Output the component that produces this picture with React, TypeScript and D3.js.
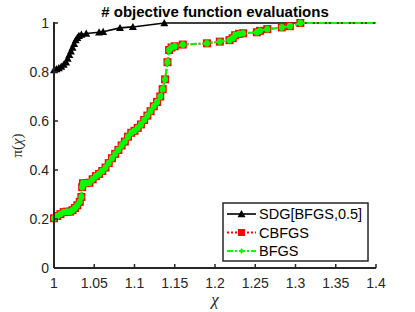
import React from "react";
import * as d3 from "d3";

const W = 415, H = 312;
const xTicks = [1, 1.05, 1.1, 1.15, 1.2, 1.25, 1.3, 1.35, 1.4];
const xTickLabels = ["1", "1.05", "1.1", "1.15", "1.2", "1.25", "1.3", "1.35", "1.4"];
const yTicks = [0, 0.2, 0.4, 0.6, 0.8, 1];
const yTickLabels = ["0", "0.2", "0.4", "0.6", "0.8", "1"];

const sdgX = [1.0, 1.003, 1.006, 1.009, 1.012, 1.015, 1.017, 1.019, 1.021, 1.023, 1.025, 1.027, 1.029, 1.031, 1.034, 1.04, 1.056, 1.061, 1.082, 1.098, 1.137, 1.4];
const sdgY = [0.808, 0.812, 0.816, 0.822, 0.83, 0.84, 0.855, 0.87, 0.885, 0.9, 0.915, 0.93, 0.94, 0.948, 0.953, 0.957, 0.962, 0.964, 0.98, 0.984, 1.0, 1.0];

const bfgsX = [1.0, 1.004, 1.008, 1.012, 1.016, 1.02, 1.023, 1.026, 1.029, 1.032, 1.034, 1.035, 1.036, 1.04, 1.044, 1.048, 1.052, 1.056, 1.06, 1.064, 1.068, 1.072, 1.076, 1.08, 1.084, 1.088, 1.092, 1.096, 1.1, 1.104, 1.108, 1.112, 1.116, 1.12, 1.124, 1.128, 1.132, 1.135, 1.138, 1.141, 1.143, 1.146, 1.15, 1.16, 1.19, 1.206, 1.218, 1.222, 1.225, 1.23, 1.235, 1.252, 1.256, 1.265, 1.283, 1.293, 1.306, 1.4];
const bfgsY = [0.203, 0.212, 0.22, 0.228, 0.23, 0.23, 0.236, 0.245, 0.256, 0.27, 0.29, 0.33, 0.346, 0.346, 0.348, 0.362, 0.375, 0.384, 0.396, 0.41, 0.428, 0.448, 0.466, 0.482, 0.5, 0.516, 0.536, 0.552, 0.56, 0.572, 0.586, 0.604, 0.622, 0.64, 0.66, 0.678, 0.7, 0.73, 0.77, 0.84, 0.89, 0.9, 0.905, 0.912, 0.917, 0.924, 0.93, 0.938, 0.95, 0.956, 0.958, 0.962, 0.968, 0.975, 0.982, 0.987, 1.0, 1.0];
const cbfgsX = bfgsX;
const cbfgsY = bfgsY;

const legendLabels = ["SDG[BFGS,0.5]", "CBFGS", "BFGS"];

const L = 54, R = 376, T = 23, B = 268;
const AX = "#262626";
const FONT = "'Liberation Sans', Arial, Helvetica, sans-serif";

export default function App() {
  const x = d3.scaleLinear().domain([1, 1.4]).range([L, R]);
  const y = d3.scaleLinear().domain([0, 1]).range([B, T]);
  const line = d3.line<[number, number]>().x(d => x(d[0])).y(d => y(d[1]));
  const sdg: [number, number][] = sdgX.map((v, i) => [v, sdgY[i]]);
  const cb: [number, number][] = cbfgsX.map((v, i) => [v, cbfgsY[i]]);
  const bf: [number, number][] = bfgsX.map((v, i) => [v, bfgsY[i]]);
  const sdgMarks = sdg.slice(0, -1);
  const cbMarks = cb.slice(0, -1);
  const bfMarks = bf.slice(0, -1);
  const tri = (cx: number, cy: number, s: number) =>
    `M${cx},${cy - s}L${cx + s},${cy + s * 0.8}L${cx - s},${cy + s * 0.8}Z`;
  const diamond = (cx: number, cy: number, s: number) =>
    `M${cx},${cy - s}L${cx + s * 0.75},${cy}L${cx},${cy + s}L${cx - s * 0.75},${cy}Z`;

  const legX = 223, legY = 203, legW = 145, legH = 58;
  const rows = [214, 232.5, 251];

  return (
    <svg width={W} height={H} style={{ position: "absolute", left: 0, top: 0 }} fontFamily={FONT}>
      <rect x={0} y={0} width={W} height={H} fill="#fff" />
      {/* data */}
      <path d={line(sdg) || ""} fill="none" stroke="#000" strokeWidth={1.6} />
      {sdgMarks.map((d, i) => (
        <path key={"s" + i} d={tri(x(d[0]), y(d[1]), 4)} fill="#000" />
      ))}
      <path d={line(cb) || ""} fill="none" stroke="#ff0000" strokeWidth={2} strokeDasharray="2,2" />
      {cbMarks.map((d, i) => (
        <rect key={"c" + i} x={x(d[0]) - 4} y={y(d[1]) - 4} width={8} height={8} fill="#ff0000" />
      ))}
      <path d={line(bf) || ""} fill="none" stroke="#00ff00" strokeWidth={2} strokeDasharray="6,2,2,2" />
      {bfMarks.map((d, i) => (
        <ellipse key={"b" + i} cx={x(d[0])} cy={y(d[1])} rx={3} ry={3.4} fill="#00ff00" />
      ))}
      {/* axes */}
      <line x1={L} y1={T - 1} x2={L} y2={B} stroke={AX} strokeWidth={2} />
      <line x1={L} y1={B} x2={R} y2={B} stroke={AX} strokeWidth={2} />
      {xTicks.map((t, i) => (
        <g key={"xt" + i}>
          <line x1={x(t)} x2={x(t)} y1={B} y2={B - 4} stroke={AX} strokeWidth={1.5} />
          <text x={x(t)} y={B + 20} textAnchor="middle" fontSize={14} fill={AX}>{xTickLabels[i]}</text>
        </g>
      ))}
      {yTicks.map((t, i) => (
        <g key={"yt" + i}>
          <line x1={L} x2={L + 4} y1={y(t)} y2={y(t)} stroke={AX} strokeWidth={1.5} />
          <text x={L - 5} y={y(t) + 5} textAnchor="end" fontSize={14} fill={AX}>{yTickLabels[i]}</text>
        </g>
      ))}
      {/* labels */}
      <text x={(L + R) / 2} y={17} textAnchor="middle" fontSize={15} fontWeight="bold" fill="#000">
        # objective function evaluations
      </text>
      <text x={(L + R) / 2} y={305} textAnchor="middle" fontSize={17} fontStyle="italic" fontFamily="'Liberation Serif', 'Times New Roman', serif" fill={AX}>χ</text>
      <text transform={`translate(22,${(T + B) / 2}) rotate(-90)`} textAnchor="middle" fontSize={15} fontFamily="'Liberation Serif', 'Times New Roman', serif" fill={AX}>
        π(<tspan fontStyle="italic">χ</tspan>)
      </text>
      {/* legend */}
      <rect x={legX} y={legY} width={legW} height={legH} fill="#fff" stroke={AX} strokeWidth={1.5} />
      <line x1={227} x2={256} y1={rows[0]} y2={rows[0]} stroke="#000" strokeWidth={1.6} />
      <path d={tri(241.5, rows[0], 4)} fill="#000" />
      <line x1={227} x2={256} y1={rows[1]} y2={rows[1]} stroke="#ff0000" strokeWidth={2} strokeDasharray="2,2" />
      <rect x={238} y={rows[1] - 3.5} width={7} height={7} fill="#ff0000" />
      <line x1={227} x2={256} y1={rows[2]} y2={rows[2]} stroke="#00ff00" strokeWidth={2} strokeDasharray="6,2,2,2" />
      <path d={diamond(241.5, rows[2], 3)} fill="#00ff00" />
      {legendLabels.map((s, i) => (
        <text key={"l" + i} x={259} y={rows[i] + 5} fontSize={14.5} fill="#000">{s}</text>
      ))}
    </svg>
  );
}
